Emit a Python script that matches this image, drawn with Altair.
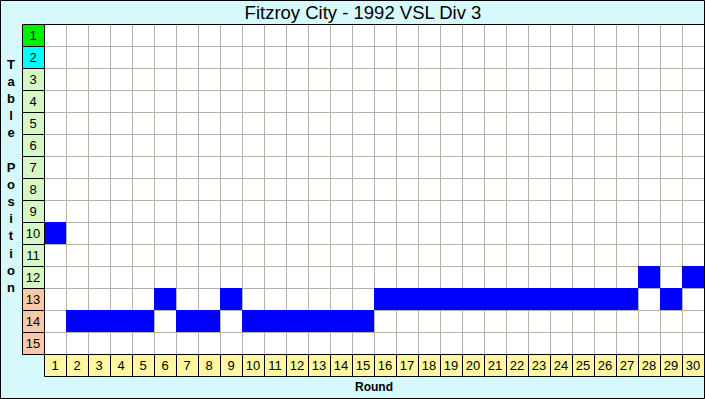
import altair as alt
import pandas as pd

title_text = "Fitzroy City - 1992 VSL Div 3"
y_title_1 = "T\na\nb\nl\ne"
y_title_2 = "P\no\ns\ni\nt\ni\no\nn"
x_title = "Round"

rounds = list(range(1, 31))
positions = [10, 14, 14, 14, 14, 13, 14, 14, 13, 14,
             14, 14, 14, 14, 14, 13, 13, 13, 13, 13,
             13, 13, 13, 13, 13, 13, 13, 12, 13, 12]
table_positions = list(range(1, 16))
zones = ["Top", "Second"] + ["Mid"] * 10 + ["Bottom"] * 3

zone_domain = ["Top", "Second", "Mid", "Bottom"]
zone_range = ["#00f000", "#00ffff", "#d6f8c6", "#f8c8a8"]

df = pd.DataFrame({"round": rounds, "pos": positions})
df_pos = pd.DataFrame({"pos": table_positions, "zone": zones})
df_rounds = pd.DataFrame({"round": rounds})
df_vlines = pd.DataFrame({"gx": [r + 0.5 for r in rounds[:-1]]})
df_hlines = pd.DataFrame({"gy": [p + 0.5 for p in table_positions[:-1]]})
df_top = pd.DataFrame({"gy": [table_positions[0] - 0.5]})
df_right = pd.DataFrame({"gx": [rounds[-1] + 0.5]})

xs = alt.Scale(domain=[rounds[0] - 0.5, rounds[-1] + 0.5], nice=False, zero=False)
ys = alt.Scale(domain=[table_positions[0] - 0.5, table_positions[-1] + 0.5],
               nice=False, zero=False, reverse=True)

FONT = "Liberation Sans"

vgrid = alt.Chart(df_vlines).mark_rule(color="#b8b2a6", strokeWidth=1, xOffset=0.5).encode(
    x=alt.X("gx:Q", scale=xs, axis=None))
hgrid = alt.Chart(df_hlines).mark_rule(color="#b8b2a6", strokeWidth=1, yOffset=0.5).encode(
    y=alt.Y("gy:Q", scale=ys, axis=None))

cells = alt.Chart(df).transform_calculate(
    x0="datum.round - 0.5", x1="datum.round + 0.5",
    y0="datum.pos - 0.5", y1="datum.pos + 0.5",
).mark_rect(color="#0000ff").encode(
    x=alt.X("x0:Q", scale=xs, axis=None), x2="x1:Q",
    y=alt.Y("y0:Q", scale=ys, axis=None), y2="y1:Q")

top_edge = alt.Chart(df_top).mark_rule(color="black", strokeWidth=1, yOffset=0.5).encode(
    y=alt.Y("gy:Q", scale=ys, axis=None))
right_edge = alt.Chart(df_right).mark_rule(color="black", strokeWidth=1, xOffset=0.5).encode(
    x=alt.X("gx:Q", scale=xs, axis=None))

ybox = alt.Chart(df_pos).transform_calculate(
    x0="-0.5", x1="0.5", y0="datum.pos - 0.5", y1="datum.pos + 0.5",
).mark_rect(stroke="black", strokeWidth=1, xOffset=0.5, x2Offset=0.5,
            yOffset=0.5, y2Offset=0.5).encode(
    x=alt.X("x0:Q", scale=xs, axis=None), x2="x1:Q",
    y=alt.Y("y0:Q", scale=ys, axis=None), y2="y1:Q",
    fill=alt.Fill("zone:N", scale=alt.Scale(domain=zone_domain, range=zone_range), legend=None))

ytext = alt.Chart(df_pos).transform_calculate(xc="0").mark_text(
    font=FONT, fontSize=13, color="black", baseline="middle", align="center", dy=1).encode(
    x=alt.X("xc:Q", scale=xs, axis=None),
    y=alt.Y("pos:Q", scale=ys, axis=None),
    text="pos:N")

xbox = alt.Chart(df_rounds).transform_calculate(
    x0="datum.round - 0.5", x1="datum.round + 0.5", y0="15.5", y1="16.5",
).mark_rect(fill="#fff8a0", stroke="black", strokeWidth=1, xOffset=0.5, x2Offset=0.5,
            yOffset=0.5, y2Offset=0.5).encode(
    x=alt.X("x0:Q", scale=xs, axis=None), x2="x1:Q",
    y=alt.Y("y0:Q", scale=ys, axis=None), y2="y1:Q")

xtext = alt.Chart(df_rounds).transform_calculate(yc="16").mark_text(
    font=FONT, fontSize=13, color="black", baseline="middle", align="center", dy=1).encode(
    x=alt.X("round:Q", scale=xs, axis=None),
    y=alt.Y("yc:Q", scale=ys, axis=None),
    text="round:N")

title = alt.Chart(pd.DataFrame({"t": [title_text]})).mark_text(
    font=FONT, fontSize=18.5, color="black", baseline="alphabetic", align="center").encode(
    x=alt.value(319), y=alt.value(-5), text="t:N")

xlab = alt.Chart(pd.DataFrame({"t": [x_title]})).mark_text(
    font=FONT, fontSize=12, fontWeight="bold", color="black",
    baseline="alphabetic", align="center").encode(
    x=alt.value(330), y=alt.value(367), text="t:N")

ylab1 = alt.Chart(pd.DataFrame({"t": [y_title_1]})).mark_text(
    font=FONT, fontSize=13, fontWeight="bold", color="black",
    baseline="middle", align="center", lineBreak="\n", lineHeight=17.1).encode(
    x=alt.value(-33), y=alt.value(41), text="t:N")

ylab2 = alt.Chart(pd.DataFrame({"t": [y_title_2]})).mark_text(
    font=FONT, fontSize=13, fontWeight="bold", color="black",
    baseline="middle", align="center", lineBreak="\n", lineHeight=17.1).encode(
    x=alt.value(-33), y=alt.value(144), text="t:N")

frame = alt.Chart(pd.DataFrame({"a": [0]})).mark_rect(
    fill=None, stroke="black", strokeWidth=1).encode(
    x=alt.value(-43.5), x2=alt.value(660.5), y=alt.value(-23.5), y2=alt.value(374.5))

chart = alt.layer(
    vgrid, hgrid, cells, top_edge, right_edge, ybox, ytext, xbox, xtext,
    title, xlab, ylab1, ylab2, frame
).properties(
    width=660, height=330,
    padding={"left": 44, "top": 24, "right": 1, "bottom": 45},
    autosize=alt.AutoSizeParams(type="none"),
    background="#d6fafc",
).configure_view(fill="white", stroke=None)

chart.save("out.html", embed_options={"renderer": "svg", "actions": False})
